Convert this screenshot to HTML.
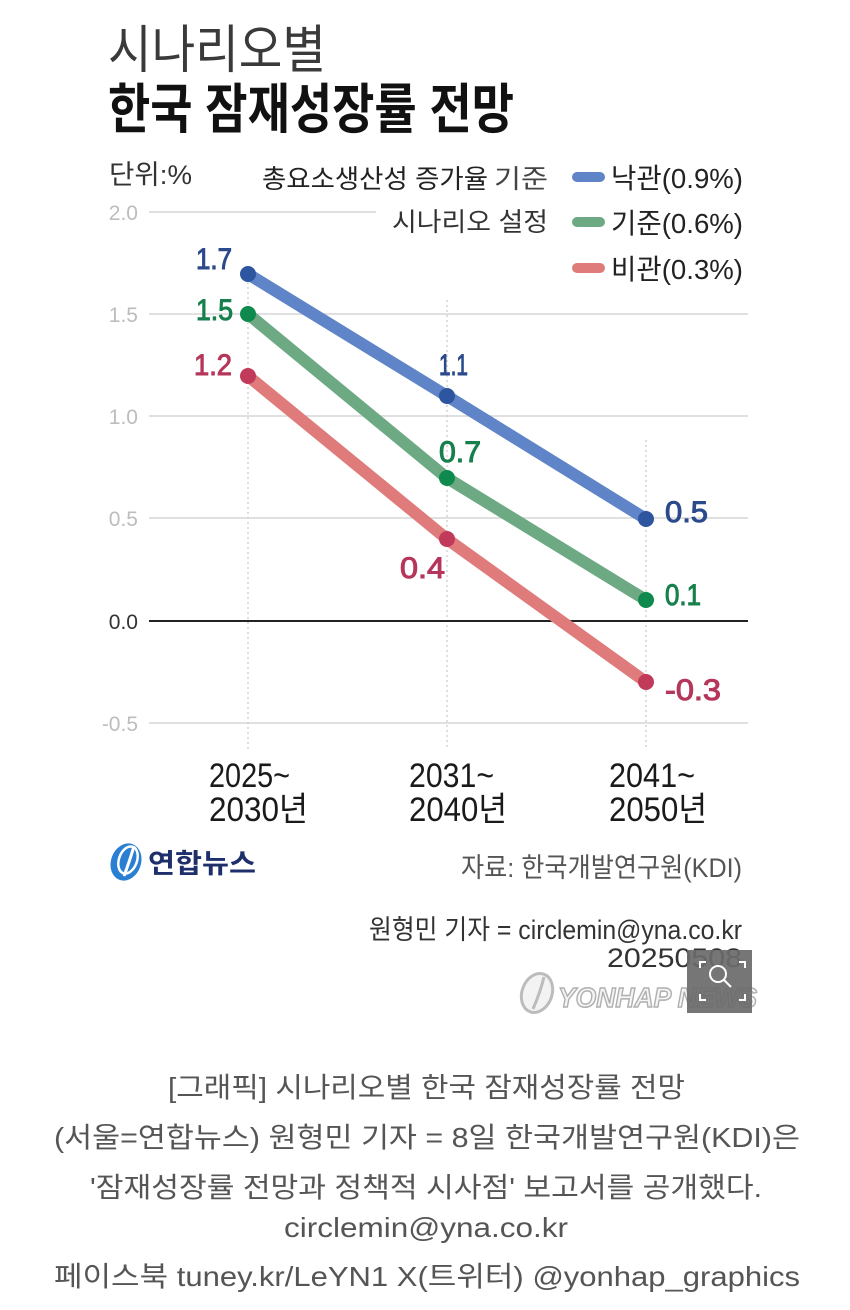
<!DOCTYPE html>
<html>
<head>
<meta charset="utf-8">
<style>
  html,body{margin:0;padding:0;background:#fff;}
  svg{display:block;}
  text{font-family:"Liberation Sans","Noto Sans CJK KR",sans-serif;}
</style>
</head>
<body>
<svg width="850" height="1310" viewBox="0 0 850 1310" xmlns="http://www.w3.org/2000/svg">
  <rect width="850" height="1310" fill="#ffffff"/>

  <!-- Title -->
  <text x="108" y="68" font-size="52" fill="#3a3a3a" textLength="218" lengthAdjust="spacingAndGlyphs">시나리오별</text>
  <text x="108" y="128" font-size="54" font-weight="bold" fill="#111" textLength="406" lengthAdjust="spacingAndGlyphs">한국 잠재성장률 전망</text>

  <!-- Unit & subtitle -->
  <text x="109" y="184" font-size="27" fill="#333" textLength="83" lengthAdjust="spacingAndGlyphs">단위:%</text>
  <text x="262" y="188" font-size="26" fill="#222" textLength="226" lengthAdjust="spacingAndGlyphs">총요소생산성 증가율</text>
  <text x="494" y="188" font-size="26" fill="#444" textLength="54" lengthAdjust="spacingAndGlyphs">기준</text>
  <text x="392" y="231" font-size="26" fill="#333" textLength="156" lengthAdjust="spacingAndGlyphs">시나리오 설정</text>

  <!-- Legend -->
  <line x1="577" y1="177" x2="600" y2="177" stroke="#5f84c8" stroke-width="10" stroke-linecap="round"/>
  <line x1="577" y1="222" x2="600" y2="222" stroke="#6daa84" stroke-width="10" stroke-linecap="round"/>
  <line x1="577" y1="268" x2="600" y2="268" stroke="#e07b7b" stroke-width="10" stroke-linecap="round"/>
  <text x="611" y="188" font-size="28" fill="#222" textLength="132" lengthAdjust="spacingAndGlyphs">낙관(0.9%)</text>
  <text x="611" y="233" font-size="28" fill="#222" textLength="132" lengthAdjust="spacingAndGlyphs">기준(0.6%)</text>
  <text x="611" y="279" font-size="28" fill="#222" textLength="132" lengthAdjust="spacingAndGlyphs">비관(0.3%)</text>

  <!-- Gridlines -->
  <line x1="149" y1="212" x2="376" y2="212" stroke="#d6d6d6" stroke-width="1.5"/>
  <line x1="149" y1="314" x2="748" y2="314" stroke="#d6d6d6" stroke-width="1.5"/>
  <line x1="149" y1="416" x2="748" y2="416" stroke="#d6d6d6" stroke-width="1.5"/>
  <line x1="149" y1="518" x2="748" y2="518" stroke="#d6d6d6" stroke-width="1.5"/>
  <line x1="149" y1="723" x2="748" y2="723" stroke="#d6d6d6" stroke-width="1.5"/>

  <!-- Vertical dotted -->
  <line x1="248" y1="272" x2="248" y2="750" stroke="#c8c8c8" stroke-width="1.2" stroke-dasharray="2,3"/>
  <line x1="447" y1="300" x2="447" y2="750" stroke="#c8c8c8" stroke-width="1.2" stroke-dasharray="2,3"/>
  <line x1="646" y1="440" x2="646" y2="750" stroke="#c8c8c8" stroke-width="1.2" stroke-dasharray="2,3"/>

  <!-- Zero line -->
  <line x1="149" y1="621" x2="748" y2="621" stroke="#222" stroke-width="2"/>

  <!-- Y tick labels -->
  <g font-size="21" text-anchor="end">
    <text x="138" y="220" fill="#bdbdbd">2.0</text>
    <text x="138" y="322" fill="#bdbdbd">1.5</text>
    <text x="138" y="424" fill="#bdbdbd">1.0</text>
    <text x="138" y="526" fill="#bdbdbd">0.5</text>
    <text x="138" y="629" fill="#333">0.0</text>
    <text x="138" y="731" fill="#bdbdbd">-0.5</text>
  </g>

  <!-- Series lines -->
  <polyline points="248,274 447,396 646,519" fill="none" stroke="#5f84c8" stroke-width="12" stroke-linecap="round" stroke-linejoin="round"/>
  <polyline points="248,314 447,478 646,600" fill="none" stroke="#6daa84" stroke-width="12" stroke-linecap="round" stroke-linejoin="round"/>
  <polyline points="248,376 447,539 646,682" fill="none" stroke="#e07b7b" stroke-width="12" stroke-linecap="round" stroke-linejoin="round"/>

  <!-- Dots -->
  <circle cx="248" cy="274" r="8" fill="#2d55a0"/>
  <circle cx="447" cy="396" r="8" fill="#2d55a0"/>
  <circle cx="646" cy="519" r="8" fill="#2d55a0"/>
  <circle cx="248" cy="314" r="8" fill="#0f8a4e"/>
  <circle cx="447" cy="478" r="8" fill="#0f8a4e"/>
  <circle cx="646" cy="600" r="8" fill="#0f8a4e"/>
  <circle cx="248" cy="376" r="8" fill="#c23a5a"/>
  <circle cx="447" cy="539" r="8" fill="#c23a5a"/>
  <circle cx="646" cy="682" r="8" fill="#c23a5a"/>

  <!-- Data labels -->
  <g font-size="30" stroke-width="1">
    <text x="196" y="269" fill="#2b4a8b" stroke="#2b4a8b" textLength="36" lengthAdjust="spacingAndGlyphs">1.7</text>
    <text x="439" y="375" fill="#2b4a8b" stroke="#2b4a8b" textLength="29" lengthAdjust="spacingAndGlyphs">1.1</text>
    <text x="665" y="522" fill="#2b4a8b" stroke="#2b4a8b" textLength="43" lengthAdjust="spacingAndGlyphs">0.5</text>

    <text x="196" y="320" fill="#17804c" stroke="#17804c" textLength="37" lengthAdjust="spacingAndGlyphs">1.5</text>
    <text x="439" y="462" fill="#17804c" stroke="#17804c" textLength="42" lengthAdjust="spacingAndGlyphs">0.7</text>
    <text x="665" y="605" fill="#17804c" stroke="#17804c" textLength="36" lengthAdjust="spacingAndGlyphs">0.1</text>

    <text x="194" y="375" fill="#b5365a" stroke="#b5365a" textLength="38" lengthAdjust="spacingAndGlyphs">1.2</text>
    <text x="400" y="578" fill="#b5365a" stroke="#b5365a" textLength="45" lengthAdjust="spacingAndGlyphs">0.4</text>
    <text x="665" y="700" fill="#b5365a" stroke="#b5365a" textLength="56" lengthAdjust="spacingAndGlyphs">-0.3</text>
  </g>

  <!-- X labels -->
  <g font-size="34" fill="#1a1a1a">
    <text x="209" y="787" textLength="81" lengthAdjust="spacingAndGlyphs">2025~</text>
    <text x="209" y="821" textLength="99" lengthAdjust="spacingAndGlyphs">2030년</text>
    <text x="409" y="787" textLength="85" lengthAdjust="spacingAndGlyphs">2031~</text>
    <text x="409" y="821" textLength="98" lengthAdjust="spacingAndGlyphs">2040년</text>
    <text x="609" y="787" textLength="86" lengthAdjust="spacingAndGlyphs">2041~</text>
    <text x="609" y="821" textLength="98" lengthAdjust="spacingAndGlyphs">2050년</text>
  </g>

  <!-- Yonhap logo -->
  <g>
    <ellipse cx="126" cy="862" rx="15" ry="19" transform="rotate(20 126 862)" fill="#2b7fd2"/>
    <ellipse cx="128" cy="860" rx="9" ry="14" transform="rotate(20 128 860)" fill="none" stroke="#ffffff" stroke-width="2.5"/>
    <path d="M124 876 Q130 860 134 846" stroke="#ffffff" stroke-width="3" fill="none"/>
  </g>
  <text x="148" y="873" font-size="27" font-weight="bold" fill="#1e2f6b" textLength="108" lengthAdjust="spacingAndGlyphs">연합뉴스</text>

  <!-- Source / credit -->
  <text x="461" y="877" font-size="27" fill="#555" textLength="281" lengthAdjust="spacingAndGlyphs">자료: 한국개발연구원(KDI)</text>
  <text x="369" y="939" font-size="27" fill="#333" textLength="373" lengthAdjust="spacingAndGlyphs">원형민 기자 = circlemin@yna.co.kr</text>
  <text x="607" y="967" font-size="27" fill="#333" textLength="135" lengthAdjust="spacingAndGlyphs">20250508</text>

  <!-- Watermark -->
  <g opacity="0.9">
    <ellipse cx="537" cy="993" rx="15" ry="20" transform="rotate(20 537 993)" fill="#f2f2f2" stroke="#b5b5b5" stroke-width="3"/>
    <path d="M533 1009 Q540 993 544 977" stroke="#b5b5b5" stroke-width="3" fill="none"/>
    <text x="558" y="1007" font-size="28" font-weight="bold" font-style="italic" fill="#f4f4f4" stroke="#a8a8a8" stroke-width="1.5" textLength="199" lengthAdjust="spacingAndGlyphs">YONHAP NEWS</text>
  </g>

  <!-- Magnifier overlay -->
  <rect x="687" y="950" width="65" height="63" fill="#6a6a6a" opacity="0.92"/>
  <g stroke="#ffffff" stroke-width="2" fill="none">
    <circle cx="718" cy="974" r="8"/>
    <line x1="724" y1="980" x2="731" y2="987"/>
    <path d="M700 968 V962 H706"/>
    <path d="M739 962 H745 V968"/>
    <path d="M700 994 V1000 H706"/>
    <path d="M739 1000 H745 V994"/>
  </g>

  <!-- Caption -->
  <g font-size="28" fill="#555">
    <text x="168" y="1097" textLength="517" lengthAdjust="spacingAndGlyphs">[그래픽] 시나리오별 한국 잠재성장률 전망</text>
    <text x="54" y="1147" textLength="746" lengthAdjust="spacingAndGlyphs">(서울=연합뉴스) 원형민 기자 = 8일 한국개발연구원(KDI)은</text>
    <text x="90" y="1197" textLength="672" lengthAdjust="spacingAndGlyphs">'잠재성장률 전망과 정책적 시사점' 보고서를 공개했다.</text>
    <text x="284" y="1237" textLength="284" lengthAdjust="spacingAndGlyphs">circlemin@yna.co.kr</text>
    <text x="54" y="1286" textLength="746" lengthAdjust="spacingAndGlyphs">페이스북 tuney.kr/LeYN1 X(트위터) @yonhap_graphics</text>
  </g>
</svg>
</body>
</html>
